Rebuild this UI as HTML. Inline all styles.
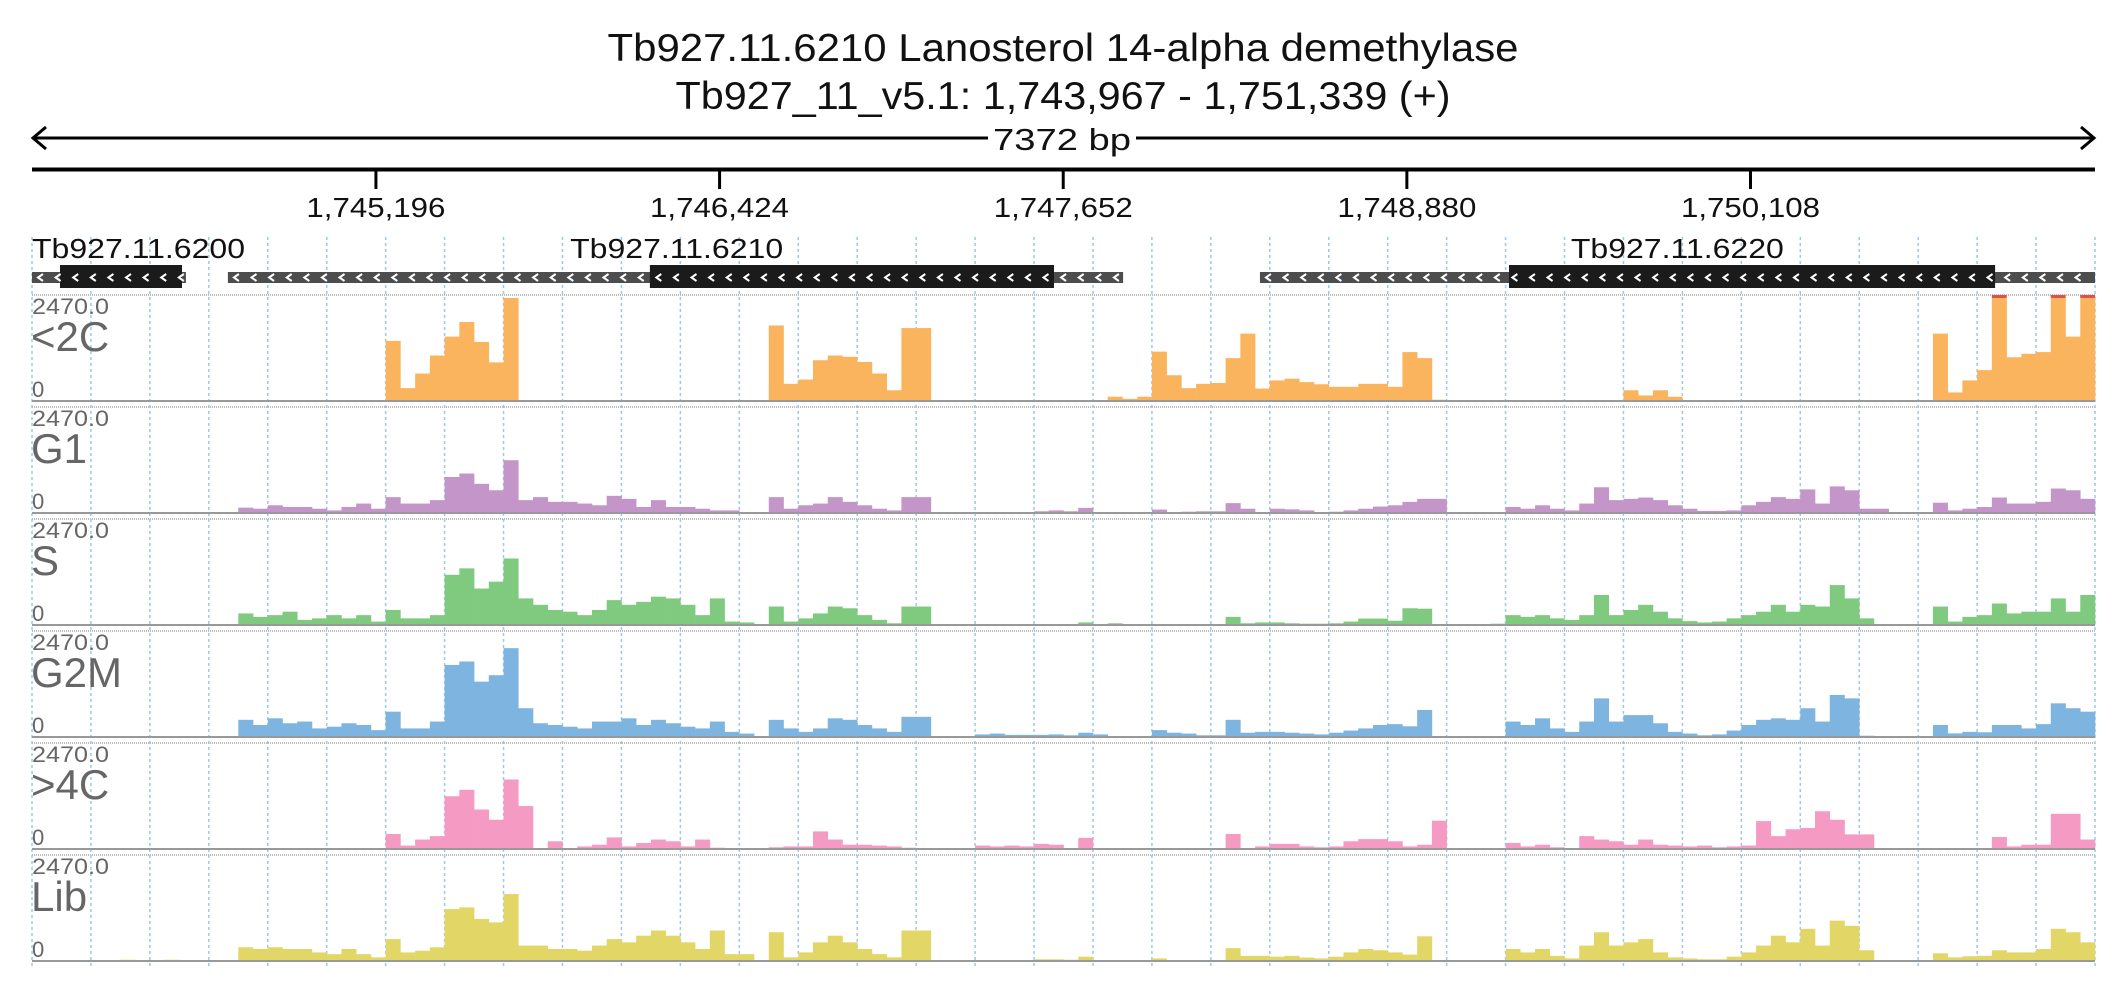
<!DOCTYPE html>
<html><head><meta charset="utf-8">
<style>
html,body{margin:0;padding:0;background:#fff;}
svg{display:block;font-family:"Liberation Sans",sans-serif;}
</style></head>
<body>
<svg id="chart" width="2126" height="1000" viewBox="0 0 2126 1000" xmlns="http://www.w3.org/2000/svg">
  <rect width="2126" height="1000" fill="#fff"/>
  <text x="1063" y="61" text-anchor="middle" font-size="39" textLength="911" lengthAdjust="spacingAndGlyphs" fill="#111">Tb927.11.6210  Lanosterol 14-alpha demethylase</text>
  <text x="1063" y="109" text-anchor="middle" font-size="39" textLength="775" lengthAdjust="spacingAndGlyphs" fill="#111">Tb927_11_v5.1: 1,743,967 - 1,751,339 (+)</text>
  <g id="scale">
    <line x1="34" y1="138" x2="2093" y2="138" stroke="#000" stroke-width="3"/>
    <polyline points="46,127 33,138 46,149" fill="none" stroke="#000" stroke-width="3"/>
    <polyline points="2081,127 2094,138 2081,149" fill="none" stroke="#000" stroke-width="3"/>
    <rect x="988" y="124" width="148" height="30" fill="#fff"/>
    <text x="1062" y="150" text-anchor="middle" font-size="31" textLength="138" lengthAdjust="spacingAndGlyphs" fill="#111">7372 bp</text>
  </g>
  <line x1="32" y1="169.5" x2="2095" y2="169.5" stroke="#000" stroke-width="4"/>
  <g id="ticks"></g>
  <g id="grid"></g>
  <g id="genes"></g>
  <g id="tracks"></g>
</svg>
<script>
const startBp = 1743967;
const endBp = 1751339;
const tickValues = [1745196, 1746424, 1747652, 1748880, 1750108];
const tickLabels = ["1,745,196", "1,746,424", "1,747,652", "1,748,880", "1,750,108"];
const geneNames = ["Tb927.11.6200", "Tb927.11.6210", "Tb927.11.6220"];
const geneStart = [1743967, 1744667, 1748355];
const geneEnd = [1744517, 1747866, 1751339];
const cdsStart = [1744067, 1746175, 1749245];
const cdsEnd = [1744503, 1747619, 1750982];
const labelStart = [1743967, 1745890, 1749466];
const trackNames = ["<2C", "G1", "S", "G2M", ">4C", "Lib"];
const trackColors = ["#fbb45e", "#c495c8", "#7fca7f", "#7db4e0", "#f59ac2", "#e2d766"];
const yMax = 2470;
const binCount = 140;
const c2C = [0,0,0,0,0,0,0,0,0,0,0,0,0,0,0,0,0,0,0,0,0,0,0,0,
 1400,300,640,1060, 1500,1840,1375,900, 2400,0,0,0, 0,0,0,0, 0,0,0,0, 0,0,0,0,
 0,0,1760,400, 500,950,1060,1030, 910,640,250,1700, 1700,0,0,0, 0,0,0,0, 0,0,0,0,
 0,100,50,100, 1150,600,300,400, 420,1000,1570,290, 480,520,440,390, 330,330,400,400,
 330,1140,1000,30, 0,0,0,0, 0,0,0,0, 0,0,0,0, 250,130,250,100,
 0,0,0,0, 0,0,0,0, 0,0,0,0, 0,0,0,0, 0,1570,200,480, 720,2470,1020,1100, 1140,2470,1500,2470];
const cG1 = [20,20,20,20, 20,20,20,20, 0,0,0,0, 0,0,125,100, 180,140,140,100, 60,140,220,100,
 370,220,220,300, 840,920,680,530, 1230,300,370,260, 260,220,180,400, 330,140,300,140,
 140,100,60,60, 20,0,370,100, 180,220,370,260, 180,100,60,370, 370,0,0,0,
 20,20,20,10, 40,60,40,120, 20,10,20,20, 80,20,30,40, 40,230,100,20,
 100,85,60,20, 30,60,100,150, 180,260,330,330, 0,0,0,0, 140,100,180,100,
 60,220,600,300, 330,360,300,180, 100,50,50,60, 180,260,370,330, 550,220,620,530,
 100,100,0,0, 0,240,60,100, 140,360,220,220, 260,570,530,330];
const cS = [0,0,0,0, 0,0,0,0, 0,0,0,0, 0,0,270,190, 230,310,120,155, 230,155,230,80,
 350,155,155,230, 1170,1320,850,1010, 1550,620,470,350, 310,230,350,580, 470,540,660,620,
 470,230,620,80, 60,0,430,80, 155,270,430,390, 230,120,40,430, 430,0,0,10,
 20,20,20,20, 20,20,20,60, 20,40,20,20, 20,20,20,20, 20,190,40,60,
 60,40,30,30, 40,80,150,150, 100,390,380,0, 0,0,0,30, 230,190,230,155,
 120,230,700,230, 350,470,310,155, 90,60,80,155, 230,310,470,310, 470,430,930,620,
 155,0,0,0, 0,430,80,190, 230,500,270,310, 310,620,310,700];
const cG2M = [0,0,0,0, 0,0,0,0, 0,0,0,0, 0,0,400,280, 435,320,360,200, 240,320,280,160,
 590,200,200,360, 1680,1760,1290,1440, 2070,670,320,280, 240,200,360,360, 435,280,400,320,
 240,200,360,120, 80,20,400,200, 120,200,435,400, 280,200,120,470, 470,0,0,10,
 60,80,50,50, 50,60,40,100, 60,20,20,20, 160,100,80,40, 40,400,100,120,
 120,100,80,60, 100,150,200,280, 300,250,630,0, 0,0,0,0, 360,280,435,200,
 120,360,900,360, 510,510,320,120, 80,40,60,150, 280,400,435,400, 670,360,980,900,
 30,0,0,0, 0,280,85,120, 110,280,280,200, 300,785,670,590];
const c4C = [0,0,0,0, 0,0,0,0, 0,0,0,0, 0,0,0,0, 10,10,10,10, 0,0,0,0,
 350,80,220,300, 1230,1380,920,680, 1620,1000,0,180, 20,60,100,270, 60,140,220,180,
 60,220,30,0, 0,20,40,60, 60,410,220,100, 100,80,60,30, 20,0,0,0,
 80,60,80,60, 120,100,20,260, 0,0,0,10, 20,0,0,0, 0,350,20,60,
 120,120,60,40, 60,180,230,230, 180,60,100,660, 0,0,0,0, 140,60,100,40,
 20,300,220,180, 100,220,100,80, 60,80,40,60, 80,650,300,460, 490,880,680,340,
 340,0,0,0, 0,0,0,0, 0,280,60,100, 100,820,820,220];
const cLib = [20,10,20,10, 20,10,30,0, 20,30,10,10, 0,0,320,280, 320,280,280,200, 160,280,160,85,
 510,200,240,320, 1210,1250,980,900, 1560,360,360,280, 280,240,360,510, 435,590,710,590,
 435,280,710,160, 160,0,670,85, 200,435,590,435, 280,160,85,710, 710,0,0,10,
 20,20,20,10, 40,40,30,100, 10,0,20,10, 60,0,0,20, 20,300,120,120,
 100,120,80,60, 100,200,280,250, 200,150,575,0, 0,0,10,0, 280,200,280,120,
 60,360,670,360, 435,510,200,85, 60,40,40,100, 200,360,590,435, 750,360,940,820,
 250,0,0,0, 0,180,85,110, 120,250,200,200, 280,750,670,435];
const trackData = [c2C, cG1, cS, cG2M, c4C, cLib];

const NS = "http://www.w3.org/2000/svg";
const X0 = 32, X1 = 2095;
const xScale = bp => X0 + (bp - startBp) / (endBp - startBp) * (X1 - X0);
const binX = i => X0 + i * (X1 - X0) / binCount;
const TRACK_TOP = 295, TRACK_PITCH = 112, TRACK_H = 106;
const yScale = (v, t) => TRACK_TOP + t * TRACK_PITCH + TRACK_H - Math.min(v, yMax) / yMax * TRACK_H;
function mk(tag, attrs, parent) {
  const e = document.createElementNS(NS, tag);
  for (const k in attrs) e.setAttribute(k, attrs[k]);
  parent.appendChild(e);
  return e;
}
const tg = document.getElementById('ticks');
tickValues.forEach((v, i) => {
  const x = xScale(v);
  const l = mk('line', {x1: x, y1: 169, x2: x, y2: 189, stroke: '#000', 'stroke-width': 3}, tg);
  
  
  const t = mk('text', {x: x, y: 217, 'text-anchor': 'middle', 'font-size': 28, textLength: 139, lengthAdjust: 'spacingAndGlyphs', fill: '#111'}, tg);
  
  
  t.textContent = tickLabels[i];
});
const gg = document.getElementById('grid');
for (let k = 0; k <= 35; k++) {
  const x = X0 + k * (X1 - X0) / 35;
  const l = mk('line', {x1: x, y1: 237, x2: x, y2: 966, stroke: '#9cc8ee', 'stroke-width': 1.5, 'stroke-dasharray': '3,3'}, gg);
  
  
}
const ge = document.getElementById('genes');
geneNames.forEach((name, i) => {
  const g = mk('g', {}, ge);
  
  
  const x1 = xScale(geneStart[i]), x2 = xScale(geneEnd[i]);
  const c1 = xScale(cdsStart[i]), c2 = xScale(cdsEnd[i]);
  mk('rect', {x: x1, y: 272, width: x2 - x1, height: 11, fill: '#4d4d4d'}, g);
  mk('rect', {x: c1, y: 265, width: c2 - c1, height: 23, fill: '#1b1b1b'}, g);
  for (let x = x1 + 6; x < x2 - 6; x += 17.6) {
    mk('polyline', {points: (x + 5) + ',274 ' + x + ',277.5 ' + (x + 5) + ',281', fill: 'none', stroke: '#fff', 'stroke-width': 2}, g);
  }
  const t = mk('text', {x: xScale(labelStart[i]), y: 258, 'font-size': 28, textLength: 213, lengthAdjust: 'spacingAndGlyphs', fill: '#111'}, g);
  
  
  t.textContent = name;
});
const tr = document.getElementById('tracks');
trackNames.forEach((name, t) => {
  const g = mk('g', {}, tr);
  
  
  const top = TRACK_TOP + t * TRACK_PITCH, base = top + TRACK_H;
  mk('line', {x1: X0, y1: top, x2: X1, y2: top, stroke: '#bbb', 'stroke-width': 2, 'stroke-dasharray': '1,1'}, g);
  const data = trackData[t];
  data.forEach((v, i) => {
    if (v <= 0) return;
    const y = yScale(v, t);
    const r = mk('rect', {x: binX(i), y: y, width: (X1 - X0) / binCount + 0.3, height: base - y, fill: trackColors[t]}, g);
    
    
    if (v >= yMax) mk('rect', {x: binX(i), y: top, width: (X1 - X0) / binCount, height: 3, fill: '#d9534f'}, g);
  });
  mk('line', {x1: X0, y1: base, x2: X1, y2: base, stroke: '#999', 'stroke-width': 2}, g);
  const mx = mk('text', {x: 32, y: top + 19, 'font-size': 22, textLength: 77, lengthAdjust: 'spacingAndGlyphs', fill: '#666'}, g);
  
  
  mx.textContent = '2470.0';
  const nm = mk('text', {x: 31, y: top + 56, 'font-size': 42, fill: '#666'}, g);
  
  
  nm.textContent = name;
  const z = mk('text', {x: 32, y: base - 4, 'font-size': 22, fill: '#666'}, g);
  
  
  z.textContent = '0';
});
</script>
</body></html>
